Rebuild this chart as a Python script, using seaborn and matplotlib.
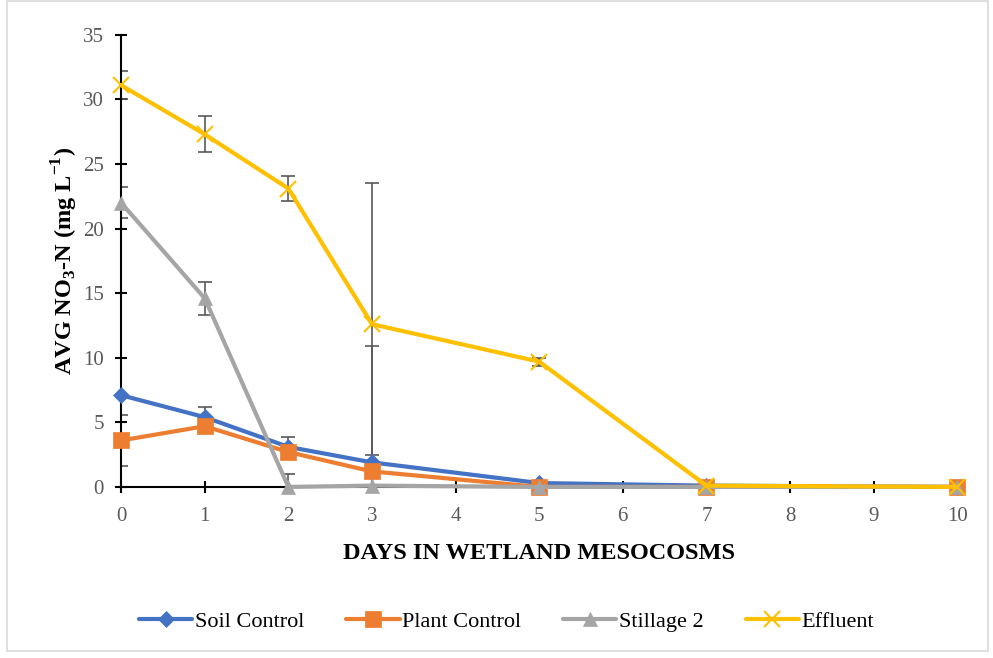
import matplotlib
matplotlib.use("Agg")
import matplotlib.pyplot as plt
import seaborn as sns
import pandas as pd
from matplotlib.patches import Rectangle

days = [0, 1, 2, 3, 5, 7, 10]
soil_control = [7.1, 5.4, 3.1, 1.9, 0.3, 0.1, 0.0]
plant_control = [3.6, 4.7, 2.7, 1.2, 0.0, 0.0, 0.0]
stillage_2 = [22.0, 14.6, 0.0, 0.1, 0.0, 0.0, 0.0]
effluent = [31.1, 27.3, 23.1, 12.6, 9.7, 0.1, 0.0]

soil_err = [0.0, 0.8, 0.8, 0.6, 0.0, 0.0, 0.0]
plant_err = [2.0, 0.0, 0.0, 0.0, 0.0, 0.0, 0.0]
stillage_err = [1.2, 1.3, 1.0, 10.8, 0.0, 0.0, 0.0]
effluent_err = [1.1, 1.4, 1.0, 10.9, 0.3, 0.0, 0.0]

series_names = ["Soil Control", "Plant Control", "Stillage 2", "Effluent"]
y_ticks = [0, 5, 10, 15, 20, 25, 30, 35]
x_ticks = list(range(0, 11))

sns.set_theme(style="white")
plt.rcParams['font.family'] = ['Liberation Serif', 'DejaVu Serif']
plt.rcParams['mathtext.fontset'] = 'custom'
plt.rcParams['mathtext.rm'] = 'Liberation Serif'
plt.rcParams['mathtext.bf'] = 'Liberation Serif:bold'
plt.rcParams['text.color'] = 'black'
plt.rcParams['axes.labelcolor'] = 'black'

fig = plt.figure(figsize=(9.93, 6.58), dpi=100)
ax = fig.add_axes([0.122, 0.26, 0.842, 0.687])

values = [soil_control, plant_control, stillage_2, effluent]
errs = [soil_err, plant_err, stillage_err, effluent_err]
colors = ["#4472C4", "#ED7D31", "#A5A5A5", "#FFC000"]
markers = ["D", "s", "^", "x"]
msizes = [8, 12, 10, 11]

series_lines = []
for name, vals, err, c, m, ms in zip(series_names, values, errs, colors, markers, msizes):
    df = pd.DataFrame({"day": days, "val": vals})
    ax.errorbar(days, vals, yerr=err, fmt="none", ecolor="#595959",
                elinewidth=1.2, capsize=5, capthick=1.2, zorder=2)
    n_before = len(ax.lines)
    sns.lineplot(data=df, x="day", y="val", ax=ax, color=c, linewidth=3.0,
                 marker=m, markersize=ms, markeredgecolor=c,
                 markeredgewidth=1.5 if m == "x" else 0.5,
                 label=name, zorder=3)
    series_lines.extend(ax.lines[n_before:])

for ln in series_lines:
    ln.set_clip_on(False)

ax.set_xlim(0, 10)
ax.set_ylim(0, 35)
ax.set_xticks(x_ticks)
ax.set_yticks(y_ticks)
ax.tick_params(axis="both", direction="inout", length=9, width=1.5,
               colors="black", labelcolor="#595959", labelsize=15,
               bottom=True, left=True)
ax.tick_params(axis="x", pad=10)
ax.tick_params(axis="y", pad=8)
for s in ["top", "right"]:
    ax.spines[s].set_visible(False)
for s in ["left", "bottom"]:
    ax.spines[s].set_color("black")
    ax.spines[s].set_linewidth(1.5)

ax.set_xlabel("DAYS IN WETLAND MESOCOSMS", fontsize=17.5, fontweight="bold", labelpad=12)
ax.set_ylabel(r"AVG NO$_\mathbf{3}$-N (mg L$^\mathbf{-1}$)", fontsize=17.5,
              fontweight="bold", labelpad=2)

handles, labels = ax.get_legend_handles_labels()
ax.legend(handles, labels, loc="center", bbox_to_anchor=(0.51, 0.055),
          bbox_transform=fig.transFigure, ncol=4, frameon=False,
          fontsize=16, handlelength=2.4, columnspacing=1.9, handletextpad=0.1)

fig.patches.append(Rectangle((0.007, 0.01), 0.988, 0.988, transform=fig.transFigure,
                             fill=False, edgecolor="#D9D9D9", linewidth=1.2))

fig.savefig("out.png", dpi=100)
